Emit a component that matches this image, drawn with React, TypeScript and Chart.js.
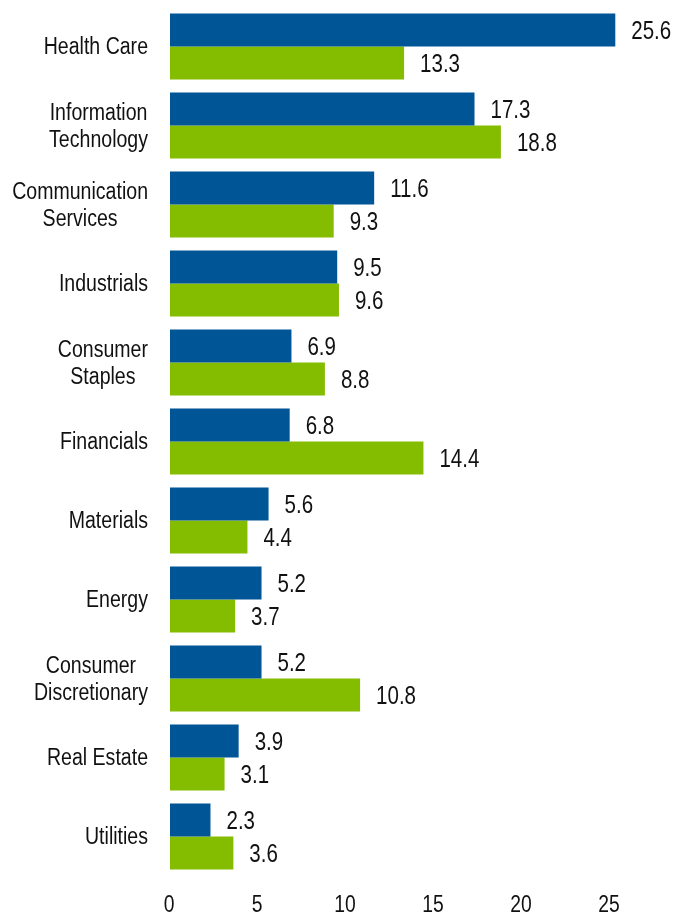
import React, { useEffect, useRef } from "react";
import { Chart, registerables } from "chart.js";

Chart.register(...registerables);

const categories: string[][] = [
  ["Health Care"],
  ["Information", "Technology"],
  ["Communication", "Services"],
  ["Industrials"],
  ["Consumer", "Staples"],
  ["Financials"],
  ["Materials"],
  ["Energy"],
  ["Consumer", "Discretionary"],
  ["Real Estate"],
  ["Utilities"],
];
const seriesBlue = [25.6, 17.3, 11.6, 9.5, 6.9, 6.8, 5.6, 5.2, 5.2, 3.9, 2.3];
const seriesGreen = [13.3, 18.8, 9.3, 9.6, 8.8, 14.4, 4.4, 3.7, 10.8, 3.1, 3.6];
const xTicks = [0, 5, 10, 15, 20, 25];

const FONT = "'Liberation Sans', Arial, sans-serif";
const BLUE = "#005596";
const GREEN = "#84BC00";
const TEXT = "#111111";

function drawNarrow(
  ctx: CanvasRenderingContext2D,
  text: string,
  x: number,
  y: number,
  align: CanvasTextAlign,
  squeeze: number
) {
  ctx.save();
  ctx.translate(x, y);
  ctx.scale(squeeze, 1);
  ctx.textAlign = align;
  ctx.textBaseline = "middle";
  ctx.fillText(text, 0, 0);
  ctx.restore();
}

export default function App() {
  const ref = useRef<HTMLCanvasElement | null>(null);

  useEffect(() => {
    if (!ref.current) return;

    const textPlugin = {
      id: "customText",
      afterDraw(chart: any) {
        const ctx: CanvasRenderingContext2D = chart.ctx;
        const yScale = chart.scales.y;
        const xScale = chart.scales.x;
        ctx.save();
        ctx.fillStyle = TEXT;
        ctx.font = `23px ${FONT}`;
        const sq = 0.85;
        categories.forEach((lines, i) => {
          const y = yScale.getPixelForValue(i) + 1.5;
          const maxW = Math.max(...lines.map((l) => ctx.measureText(l).width)) * sq;
          const cx = 148 - maxW / 2;
          lines.forEach((l, j) => {
            drawNarrow(ctx, l, cx, y + (j - (lines.length - 1) / 2) * 27, "center", sq);
          });
        });
        xTicks.forEach((v) => {
          drawNarrow(ctx, String(v), xScale.getPixelForValue(v) - 1, 906, "center", 0.84);
        });
        ctx.restore();
      },
      afterDatasetsDraw(chart: any) {
        const ctx: CanvasRenderingContext2D = chart.ctx;
        const right = chart.chartArea.right;
        ctx.save();
        ctx.font = `25px ${FONT}`;
        ctx.fillStyle = TEXT;
        chart.data.datasets.forEach((ds: any, di: number) => {
          const meta = chart.getDatasetMeta(di);
          meta.data.forEach((el: any, i: number) => {
            const x = Math.min(el.x, right) + 16;
            drawNarrow(ctx, Number(ds.data[i]).toFixed(1), x, el.y + 2, "left", 0.82);
          });
        });
        ctx.restore();
      },
    };

    const chart = new Chart(ref.current, {
      type: "bar",
      data: {
        labels: categories.map((c) => c.join(" ")),
        datasets: [
          {
            label: "A",
            data: seriesBlue,
            backgroundColor: BLUE,
            categoryPercentage: 0.835,
            barPercentage: 1,
          },
          {
            label: "B",
            data: seriesGreen,
            backgroundColor: GREEN,
            categoryPercentage: 0.835,
            barPercentage: 1,
          },
        ],
      },
      options: {
        indexAxis: "y",
        animation: false,
        responsive: true,
        maintainAspectRatio: false,
        layout: { padding: { top: 7, right: 58.7, bottom: 0, left: 0 } },
        plugins: {
          legend: { display: false },
          tooltip: { enabled: false },
        },
        scales: {
          x: {
            type: "linear",
            min: 0,
            max: 25.3,
            grid: { display: false },
            border: { display: false },
            afterBuildTicks: (scale: any) => {
              scale.ticks = xTicks.map((v) => ({ value: v }));
            },
            afterFit: (scale: any) => {
              scale.height = 40;
            },
            ticks: { display: false },
          },
          y: {
            type: "category",
            grid: { display: false },
            border: { display: false },
            ticks: { display: false },
            afterFit: (scale: any) => {
              scale.width = 170;
            },
          },
        },
      },
      plugins: [textPlugin],
    } as any);

    return () => chart.destroy();
  }, []);

  return (
    <div style={{ position: "fixed", left: 0, top: 0, width: 674, height: 916, background: "#fff" }}>
      <canvas ref={ref} />
    </div>
  );
}
